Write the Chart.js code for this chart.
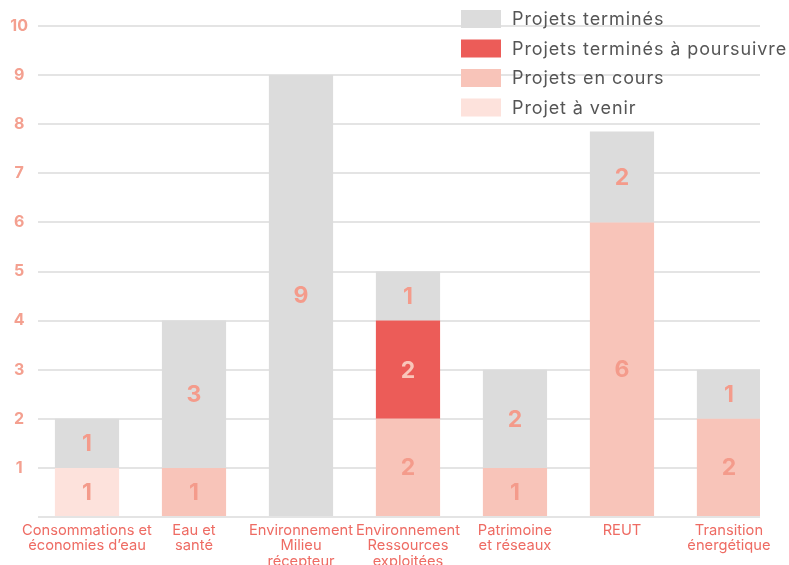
<!DOCTYPE html>
<html>
<head>
<meta charset="utf-8">
<script src="https://cdn.jsdelivr.net/npm/chart.js@4"></script>
<style>
  html, body { margin: 0; padding: 0; background: #fff; }
  #wrap { width: 789px; height: 565px; }
</style>
</head>
<body>
<div id="wrap"><canvas id="chart" width="789" height="565"></canvas></div>
<script>
var categories = [
    ['Consommations et', 'économies d\u2019eau'],
    ['Eau et', 'santé'],
    ['Environnement', 'Milieu', 'récepteur'],
    ['Environnement', 'Ressources', 'exploitées'],
    ['Patrimoine', 'et réseaux'],
    ['REUT'],
    ['Transition', 'énergétique']
]
var projetAVenir = [1, 0, 0, 0, 0, 0, 0]
var projetsEnCours = [0, 1, 0, 2, 1, 6, 2]
var projetsAPoursuivre = [0, 0, 0, 2, 0, 0, 0]
var projetsTermines = [1, 3, 9, 1, 2, 1.85, 1]
var yTicks = [1, 2, 3, 4, 5, 6, 7, 8, 9, 10]

var FONT = 'Inter, "Open Sans", sans-serif'
var positions = categories.map(function(c, i) { return i })

// numbers written in the middle of each segment
var segmentLabels = {
    id: 'segmentLabels',
    afterDatasetsDraw: function(chart) {
        var ctx = chart.ctx
        ctx.save()
        ctx.font = 'bold 23px ' + FONT
        ctx.textAlign = 'center'
        ctx.textBaseline = 'middle'
        chart.data.datasets.forEach(function(ds, i) {
            var meta = chart.getDatasetMeta(i)
            meta.data.forEach(function(bar, j) {
                var v = ds.data[j]
                if (!v) return
                ctx.fillStyle = ds.labelColor
                ctx.fillText(Math.round(v), bar.x, (bar.y + bar.base) / 2 + 1)
            })
        })
        ctx.restore()
    }
}

// vertical legend top right
var sideLegend = {
    id: 'sideLegend',
    afterDraw: function(chart) {
        var ctx = chart.ctx
        var items = chart.data.datasets.slice().reverse()
        ctx.save()
        ctx.font = '18px ' + FONT
        ctx.letterSpacing = '0.9px'
        ctx.textBaseline = 'middle'
        items.forEach(function(ds, k) {
            var y = 19 + k * 29.5
            ctx.fillStyle = ds.backgroundColor
            ctx.fillRect(461, y - 9, 40, 18)
            ctx.fillStyle = '#555555'
            ctx.fillText(ds.label, 512, y + 1)
        })
        ctx.restore()
    }
}

var ctx = document.getElementById('chart').getContext('2d')
var myChart = new Chart(ctx, {
    type: 'bar',
    data: {
        labels: positions,
        datasets: [{
            label: 'Projet à venir',
            data: projetAVenir,
            backgroundColor: '#fde2dc',
            labelColor: '#f49b8b'
        }, {
            label: 'Projets en cours',
            data: projetsEnCours,
            backgroundColor: '#f8c4b9',
            labelColor: '#f49b8b'
        }, {
            label: 'Projets terminés à poursuivre',
            data: projetsAPoursuivre,
            backgroundColor: '#ec5c58',
            labelColor: '#f9c6ba'
        }, {
            label: 'Projets terminés',
            data: projetsTermines,
            backgroundColor: '#dcdcdc',
            labelColor: '#f49b8b'
        }]
    },
    options: {
        responsive: false,
        animation: false,
        categoryPercentage: 0.6,
        barPercentage: 1,
        layout: { padding: { left: 0, right: 29, top: 26, bottom: 0 } },
        plugins: {
            legend: { display: false },
            tooltip: { enabled: false }
        },
        scales: {
            x: {
                type: 'linear',
                stacked: true,
                min: -0.458,
                max: 6.29,
                offset: false,
                afterBuildTicks: function(s) {
                    s.ticks = positions.map(function(v) { return { value: v } })
                },
                grid: { display: false },
                border: { display: false },
                ticks: {
                    color: '#ee6b63',
                    font: { family: FONT, size: 14.7, lineHeight: 1.04 },
                    padding: -2,
                    maxRotation: 0,
                    autoSkip: false,
                    callback: function(v) { return categories[v] }
                },
                afterFit: function(s) { s.height = 48 }
            },
            y: {
                stacked: true,
                min: 0,
                max: 10,
                afterBuildTicks: function(s) {
                    s.ticks = [0].concat(yTicks).map(function(v) { return { value: v } })
                },
                afterFit: function(s) { s.width = 38 },
                grid: { color: '#e4e4e4', lineWidth: 2, drawTicks: false },
                border: { display: false },
                ticks: {
                    color: '#f4a090',
                    font: { family: FONT, size: 16, weight: 'bold' },
                    padding: 10,
                    crossAlign: 'center',
                    callback: function(v) { return v === 0 ? '' : v }
                }
            }
        }
    },
    plugins: [segmentLabels, sideLegend]
})
</script>
</body>
</html>
